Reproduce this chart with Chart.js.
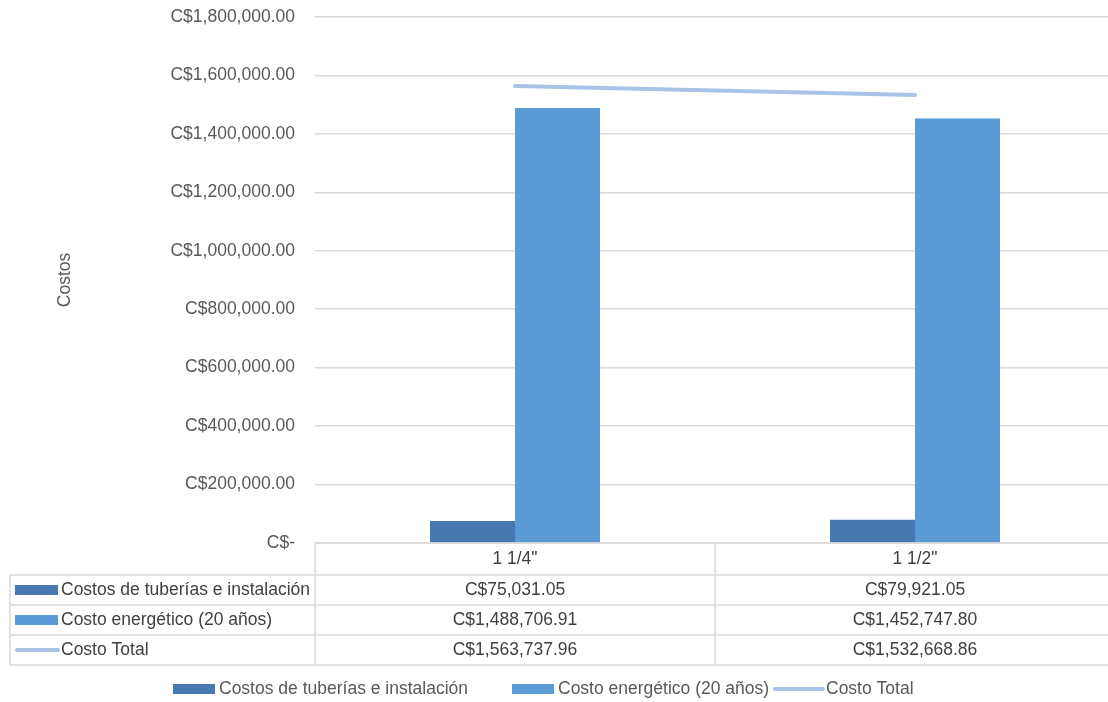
<!DOCTYPE html>
<html>
<head>
<meta charset="utf-8">
<script src="https://cdn.jsdelivr.net/npm/chart.js@4/dist/chart.umd.min.js"></script>
<style>
  html, body { margin: 0; padding: 0; background: #fff; overflow: hidden; }
  #wrap { width: 1108px; height: 702px; overflow: hidden; }
</style>
</head>
<body>
<div id="wrap"><canvas id="c" width="1115" height="702"></canvas></div>
<script>
// Diámetros de tubería comparados
const categorias = ['1 1/4"', '1 1/2"'];
// Costos (C$)
const costoTuberias = [75031.05, 79921.05];
const costoEnergetico = [1488706.91, 1452747.80];
const costoTotal = [1563737.96, 1532668.86];
const nombresSeries = ['Costos de tuberías e instalación', 'Costo energético (20 años)', 'Costo Total'];
const tituloEjeY = 'Costos';

const colores = ['#4878b0', '#5b9bd5', '#a8c3e6'];
const FONT = '"Liberation Sans", Arial, sans-serif';
const FS = 17.5;
const TXT = '#595959';
const LINEA = '#d9d9d9';

function moneda(v) {
  if (v === 0) return 'C$-';
  return 'C$' + v.toLocaleString('en-US', { minimumFractionDigits: 2, maximumFractionDigits: 2 });
}

// Tabla de datos y leyenda debajo del área de trazado
const tablaPlugin = {
  id: 'tablaDatos',
  afterDraw(chart) {
    const ctx = chart.ctx;
    const x = chart.scales.x;
    const area = chart.chartArea;
    const top = area.bottom;
    const rowH = 30;
    const headH = 32;
    const left = 10;
    const rows = [costoTuberias, costoEnergetico, costoTotal];
    const bottom = top + headH + rowH * 3;
    const step = (area.right - area.left) / categorias.length;

    ctx.save();
    ctx.strokeStyle = LINEA;
    ctx.lineWidth = 1.5;
    // líneas horizontales
    ctx.beginPath();
    ctx.moveTo(area.left, top); ctx.lineTo(area.right, top);
    for (let r = 0; r <= 3; r++) {
      const y = top + headH + r * rowH;
      ctx.moveTo(left, y); ctx.lineTo(area.right, y);
    }
    // líneas verticales
    ctx.moveTo(left, top + headH); ctx.lineTo(left, bottom);
    for (let i = 0; i <= categorias.length; i++) {
      const xx = area.left + i * step;
      ctx.moveTo(xx, top); ctx.lineTo(xx, bottom);
    }
    ctx.stroke();

    ctx.font = FS + 'px ' + FONT;
    ctx.fillStyle = '#404040';
    ctx.textAlign = 'center';
    ctx.textBaseline = 'middle';
    categorias.forEach((c, i) => {
      const cx = x.getPixelForValue(i);
      ctx.fillText(c, cx, top + headH / 2);
      rows.forEach((serie, r) => {
        ctx.fillText(moneda(serie[i]), cx, top + headH + r * rowH + rowH / 2);
      });
    });

    // claves de la tabla
    ctx.textAlign = 'left';
    nombresSeries.forEach((n, r) => {
      const cy = top + headH + r * rowH + rowH / 2;
      dibujarClave(ctx, r, 15, cy, 43);
      ctx.fillStyle = '#404040';
      ctx.fillText(n, 61, cy);
    });

    // leyenda
    const ly = 689;
    const posiciones = [173, 512, 773];
    nombresSeries.forEach((n, r) => {
      dibujarClave(ctx, r, posiciones[r], ly, r === 2 ? 50 : 42);
      ctx.fillStyle = TXT;
      ctx.fillText(n, posiciones[r] + (r === 2 ? 53 : 46), ly);
    });
    ctx.restore();
  }
};

function dibujarClave(ctx, r, x0, cy, w) {
  if (r < 2) {
    ctx.fillStyle = colores[r];
    ctx.fillRect(x0, cy - 5, w, 10);
  } else {
    ctx.strokeStyle = colores[2];
    ctx.lineWidth = 4;
    ctx.lineCap = 'round';
    ctx.beginPath();
    ctx.moveTo(x0 + 2, cy); ctx.lineTo(x0 + w, cy);
    ctx.stroke();
  }
}

new Chart(document.getElementById('c'), {
  data: {
    labels: categorias,
    datasets: [
      { type: 'line', label: nombresSeries[2], data: costoTotal, borderColor: colores[2], backgroundColor: colores[2],
        borderWidth: 4, pointRadius: 0, borderCapStyle: 'round', order: 0 },
      { type: 'bar', label: nombresSeries[0], data: costoTuberias, backgroundColor: colores[0], order: 1 },
      { type: 'bar', label: nombresSeries[1], data: costoEnergetico, backgroundColor: colores[1], order: 1 }
    ]
  },
  options: {
    responsive: false,
    animation: false,
    layout: { padding: { top: 17, right: 0, bottom: 159, left: 0 } },
    datasets: { bar: { categoryPercentage: 0.425, barPercentage: 1 } },
    plugins: { legend: { display: false }, tooltip: { enabled: false } },
    scales: {
      x: { display: false, offset: true },
      y: {
        min: 0, max: 1800000,
        ticks: { stepSize: 200000, color: TXT, font: { family: FONT, size: FS }, padding: 20,
          callback: v => moneda(v) },
        grid: { color: LINEA, lineWidth: 1.5, drawTicks: false },
        border: { display: false },
        title: { display: true, text: tituloEjeY, color: TXT, font: { family: FONT, size: FS }, padding: { top: 55, bottom: 0 } },
        afterFit(scale) {
          scale.width = 315;
          scale.paddingTop = 0;
          scale.paddingBottom = 0;
        }
      }
    }
  },
  plugins: [tablaPlugin]
});
</script>
</body>
</html>
